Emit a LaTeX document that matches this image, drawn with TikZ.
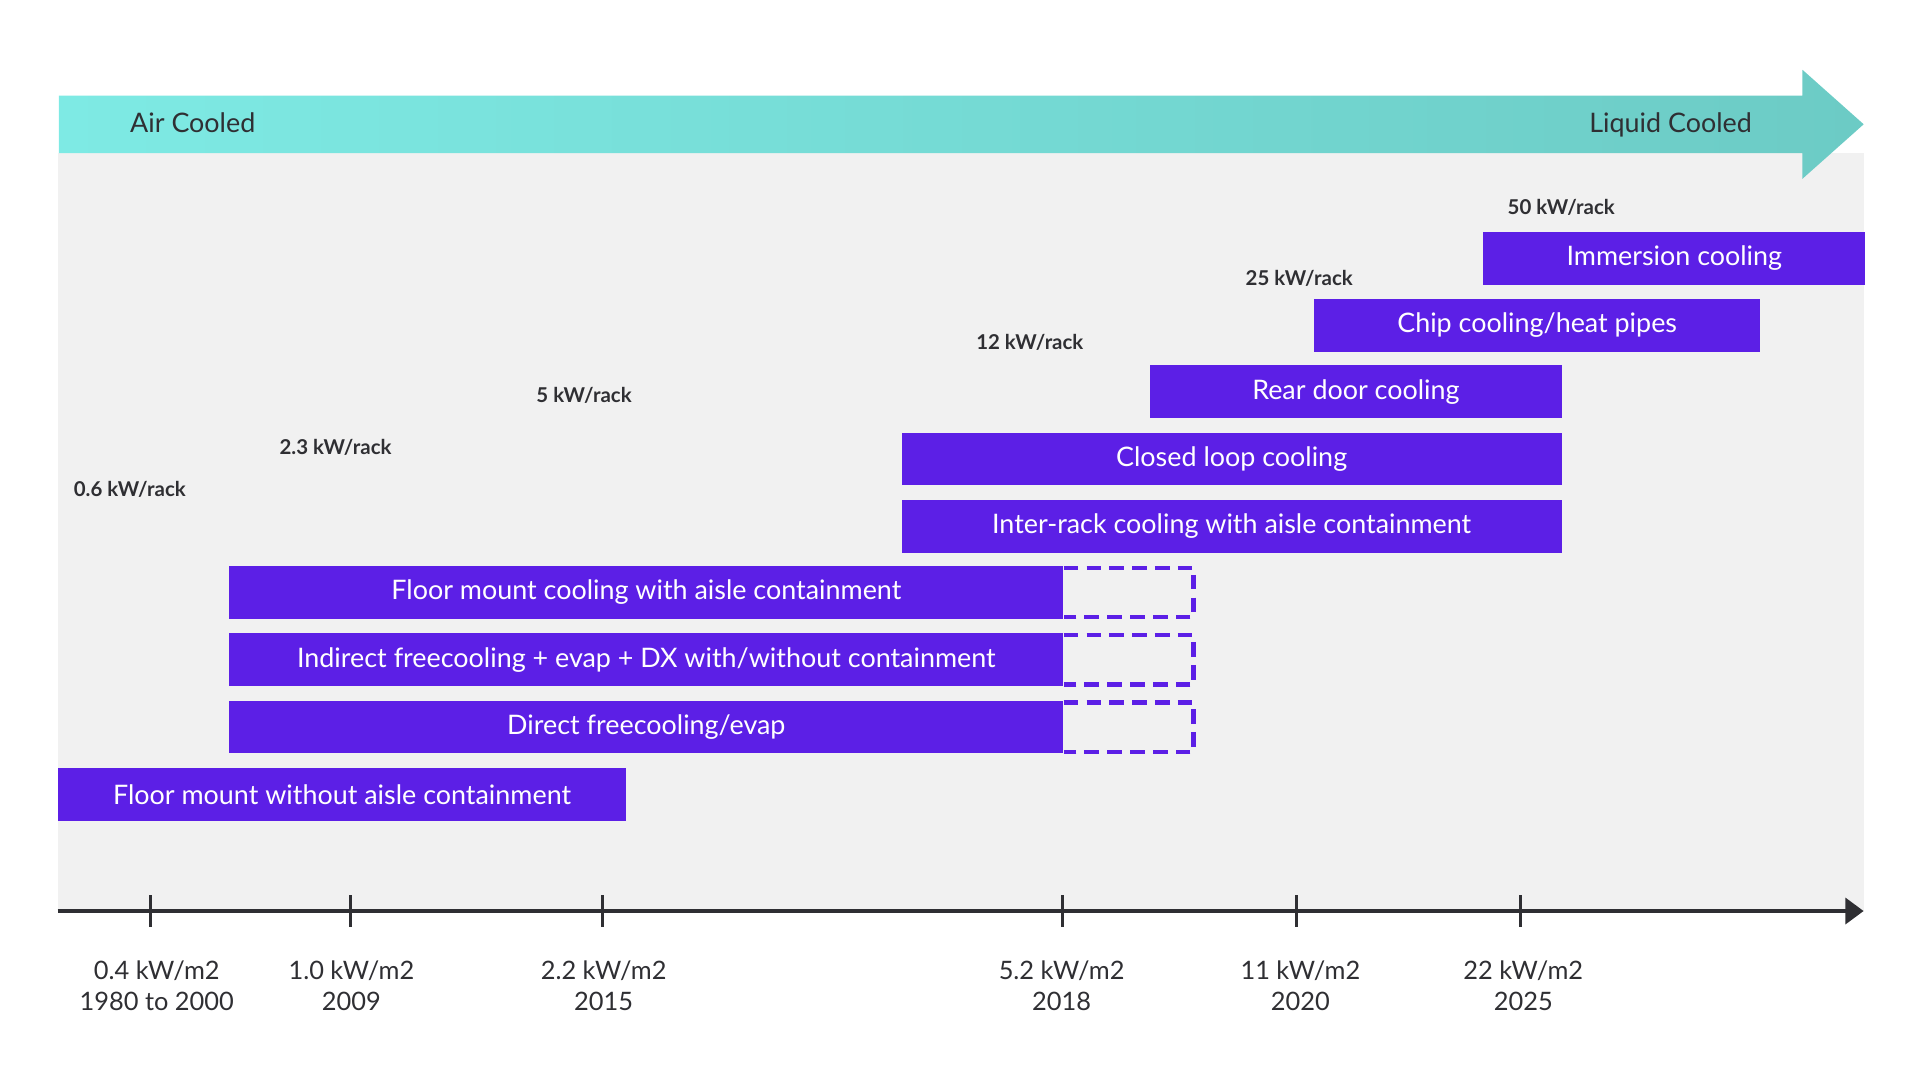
\documentclass[tikz,border=0pt]{standalone}
\usepackage{fontspec}
\setmainfont{Lato}
\usetikzlibrary{arrows.meta}

\definecolor{barpurple}{HTML}{5C1FE6}
\definecolor{panelgray}{HTML}{F1F1F1}
\definecolor{tealleft}{HTML}{7EEAE4}
\definecolor{tealright}{HTML}{6CCBC5}
\definecolor{inkdark}{HTML}{2F2F33}

\tikzset{
  coolbar/.style={fill=barpurple, text=white, anchor=north west, inner sep=0pt,
    minimum height=0.86cm, font=\fontsize{12.5}{15}\selectfont},
  rackload/.style={text=inkdark, font=\bfseries\fontsize{9.5}{11}\selectfont},
  density/.style={text=inkdark, align=center, font=\fontsize{11.8}{14.2}\selectfont},
  banner/.style={text=inkdark, inner sep=0pt, font=\fontsize{12.5}{15}\selectfont},
  dashext/.style={barpurple, line width=1.9pt, dash pattern=on 6.8pt off 3.8pt}
}

\begin{document}
\begin{tikzpicture}[x=0.02cm, y=-0.02cm]
    \useasboundingbox (0,0) rectangle (1568,882);

    % Fondo gris
    \fill[panelgray] (47,125) rectangle (1522,744);

    % Flecha superior (aire -> liquido)
    \shade[left color=tealleft, right color=tealright]
      (48,78) -- (1472,78) -- (1472,57) -- (1522,101.5) -- (1472,146) -- (1472,125) -- (48,125) -- cycle;
    \node[banner, anchor=base west] (aircooled) at (106,108.5) {Air Cooled};
    \node[banner, anchor=base east] (liquidcooled) at (1431,108.5) {Liquid Cooled};

    % Barras de tecnologias
    \node[coolbar, minimum width=312*0.02cm] (immersion) at (1211,189) {Immersion cooling};
    \node[coolbar, minimum width=364*0.02cm] (chip) at (1073,244) {Chip cooling/heat pipes};
    \node[coolbar, minimum width=336*0.02cm] (reardoor) at (939,298) {Rear door cooling};
    \node[coolbar, minimum width=539*0.02cm] (closedloop) at (736,353) {Closed loop cooling};
    \node[coolbar, minimum width=539*0.02cm] (interrack) at (736,408) {Inter-rack cooling with aisle containment};
    \node[coolbar, minimum width=681*0.02cm] (floorcont) at (187,462) {Floor mount cooling with aisle containment};
    \node[coolbar, minimum width=681*0.02cm] (indirect) at (187,517) {Indirect freecooling + evap + DX with/without containment};
    \node[coolbar, minimum width=681*0.02cm] (direct) at (187,572) {Direct freecooling/evap};
    \node[coolbar, minimum width=464*0.02cm] (floornocont) at (47,627) {Floor mount without aisle containment};

    % Extensiones punteadas
    \draw[dashext] ([yshift=-0.95pt]floorcont.north east) -- ++(106,0) |- ([yshift=0.95pt]floorcont.south east);
    \draw[dashext] ([yshift=-0.95pt]indirect.north east) -- ++(106,0) |- ([yshift=0.95pt]indirect.south east);
    \draw[dashext] ([yshift=-0.95pt]direct.north east) -- ++(106,0) |- ([yshift=0.95pt]direct.south east);

    % Carga por rack
    \node[rackload] (rack06) at (106,400) {0.6 kW/rack};
    \node[rackload] (rack23) at (274,365) {2.3 kW/rack};
    \node[rackload] (rack5) at (477,323) {5 kW/rack};
    \node[rackload] (rack12) at (841,280) {12 kW/rack};
    \node[rackload] (rack25) at (1061,227) {25 kW/rack};
    \node[rackload] (rack50) at (1275,169) {50 kW/rack};

    % Eje de densidad
    \draw[inkdark, line width=2.2pt, -{Triangle[length=0.3cm, width=0.42cm]}] (47,744) -- (1522,744);
    \draw[inkdark, line width=1.5pt] (123,731) -- (123,757);
    \draw[inkdark, line width=1.5pt] (286,731) -- (286,757);
    \draw[inkdark, line width=1.5pt] (492,731) -- (492,757);
    \draw[inkdark, line width=1.5pt] (868,731) -- (868,757);
    \draw[inkdark, line width=1.5pt] (1059,731) -- (1059,757);
    \draw[inkdark, line width=1.5pt] (1242,731) -- (1242,757);

    % Etiquetas del eje
    \node[density] (d1980) at (128,805) {0.4 kW/m2\\1980 to 2000};
    \node[density] (d2009) at (287,805) {1.0 kW/m2\\2009};
    \node[density] (d2015) at (493,805) {2.2 kW/m2\\2015};
    \node[density] (d2018) at (867,805) {5.2 kW/m2\\2018};
    \node[density] (d2020) at (1062,805) {11 kW/m2\\2020};
    \node[density] (d2025) at (1244,805) {22 kW/m2\\2025};

\end{tikzpicture}
\end{document}
